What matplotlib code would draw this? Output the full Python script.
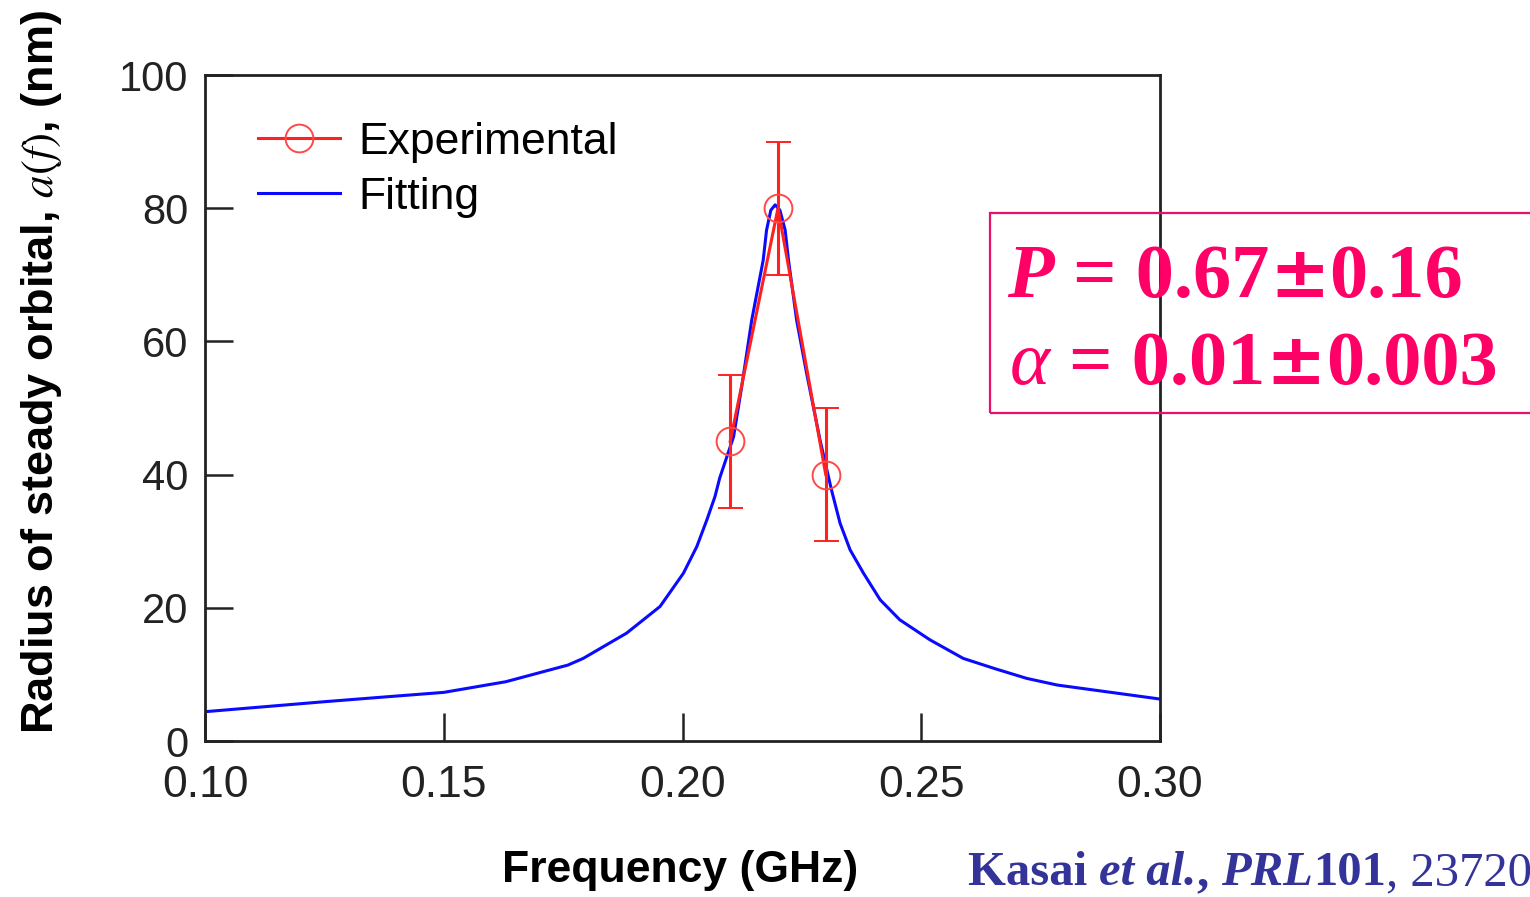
import matplotlib
matplotlib.use("Agg")
import matplotlib.pyplot as plt
from matplotlib.patches import Rectangle
from matplotlib.lines import Line2D

plt.rcParams['font.family'] = ['Liberation Sans', 'DejaVu Sans']
plt.rcParams['mathtext.fontset'] = 'stix'

# experimental points (GHz, nm) with error bars
exp_f = [0.21, 0.22, 0.23]
exp_a = [45, 80, 40]
exp_err = [10, 10, 10]

# fitted curve
fit_f = [0.100, 0.125, 0.1374, 0.150, 0.163, 0.176, 0.1792, 0.1883, 0.1953,
         0.2002, 0.2030, 0.2051, 0.2068, 0.2078, 0.2107, 0.2124, 0.2145,
         0.2169, 0.2176, 0.2185, 0.2194, 0.2204, 0.2215, 0.2222, 0.2239,
         0.2260, 0.2288, 0.2312, 0.2330, 0.2351, 0.2379, 0.2414, 0.2455,
         0.2518, 0.2588, 0.2657, 0.2721, 0.2785, 0.3000]
fit_a = [4.4, 5.9, 6.6, 7.3, 8.9, 11.4, 12.4, 16.2, 20.2,
         25.2, 29.2, 33.2, 36.7, 39.5, 45.7, 53.2, 63.2,
         72.2, 76.7, 79.7, 80.5, 79.7, 76.7, 72.2, 63.2,
         55.2, 45.2, 37.7, 32.7, 28.7, 25.2, 21.2, 18.2,
         15.2, 12.4, 10.8, 9.4, 8.4, 6.3]

xticks = [0.10, 0.15, 0.20, 0.25, 0.30]
xtick_labels = ['0.10', '0.15', '0.20', '0.25', '0.30']
yticks = [0, 20, 40, 60, 80, 100]

W, H = 1530, 897
fig = plt.figure(figsize=(W / 100, H / 100), dpi=100)
ax = fig.add_axes([205 / W, 1 - 741 / H, 955 / W, 666 / H])

red = '#ff2020'
fit_line, = ax.plot(fit_f, fit_a, color='#0a0aff', lw=2.2, zorder=2)
ax.errorbar(exp_f, exp_a, yerr=exp_err, color=red, lw=2.2,
            marker='o', ms=20, mfc='none', mec='#ff4848', mew=1.4,
            capsize=9, capthick=2.4, elinewidth=2.2, zorder=3)

ax.set_xlim(0.10, 0.30)
ax.set_ylim(0, 100)
ax.set_xticks(xticks)
ax.set_xticklabels(xtick_labels)
ax.set_yticks(yticks)
ax.tick_params(direction='in', length=20, width=1.8, color='#222222')
ax.tick_params(axis='x', labelsize=32, pad=17, labelcolor='#222222')
ax.tick_params(axis='y', labelsize=30, pad=12, labelcolor='#222222')
for s in ax.spines.values():
    s.set_linewidth(2)
    s.set_color('#222222')

exp_handle = Line2D([], [], color=red, lw=2.2, marker='o', ms=20,
                    mfc='none', mec='#ff4848', mew=1.4)
ax.legend([exp_handle, fit_line], ['Experimental', 'Fitting'], loc='upper left',
          bbox_to_anchor=(0.055, 0.93), frameon=False, fontsize=32,
          borderpad=0, borderaxespad=0, handlelength=1.85,
          handletextpad=0.42, labelspacing=0.32)

fig.text(42 / W, 1 - 372 / H, r'Radius of steady orbital, $a(f)$, (nm)',
         rotation=90, ha='center', va='center', fontsize=32.5,
         fontweight='bold')
fig.text(680 / W, 1 - 870 / H, 'Frequency (GHz)', ha='center', va='center',
         fontsize=32, fontweight='bold')

# parameter box, running off the right edge
pink = '#ff0066'
fig.patches.append(Rectangle((990 / W, 1 - 413 / H), 600 / W, 200 / H,
                             transform=fig.transFigure, fill=False,
                             edgecolor='#e8106a', lw=1.6))

renderer = fig.canvas.get_renderer()
serif = ['Liberation Serif', 'DejaVu Serif']


def put_runs(x, y, runs, **kw):
    # place text pieces one after another along a baseline (pixel coords)
    for s, extra in runs:
        opts = dict(family=serif)
        opts.update(kw)
        opts.update(extra)
        t = fig.text(x / W, 1 - y / H, s, va='baseline', ha='left', **opts)
        bb = t.get_window_extent(renderer)
        x += bb.width


pm = dict(fontweight='bold', family=['DejaVu Sans'], fontsize=52)
put_runs(1007, 297, [('P', dict(fontweight='bold', fontstyle='italic')),
                     (' = 0.67', dict(fontweight='bold')),
                     ('\u00b1', pm),
                     ('0.16', dict(fontweight='bold'))],
         color=pink, fontsize=55)
put_runs(1010, 384, [('\u03b1', dict(fontstyle='italic')),
                     (' = 0.01', dict(fontweight='bold')),
                     ('\u00b1', pm),
                     ('0.003', dict(fontweight='bold'))],
         color=pink, fontsize=55)

navy = '#333399'
put_runs(968, 885, [('Kasai ', dict(fontweight='bold')),
                    ('et al.', dict(fontweight='bold', fontstyle='italic')),
                    (', ', dict(fontweight='bold')),
                    ('PRL', dict(fontweight='bold', fontstyle='italic')),
                    ('101', dict(fontweight='bold')),
                    (', 237203', dict())],
         color=navy, fontsize=35)

fig.savefig('out.png', dpi=100)
